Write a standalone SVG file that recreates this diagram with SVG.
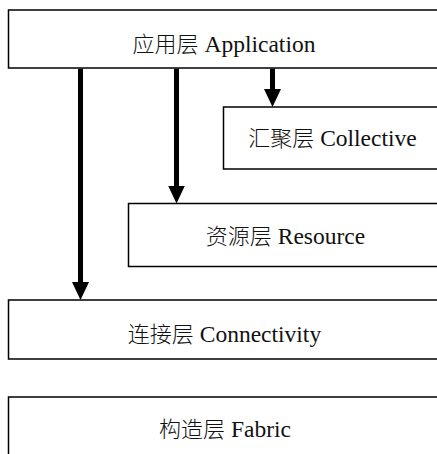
<svg xmlns="http://www.w3.org/2000/svg" width="437" height="454" viewBox="0 0 437 454">
<style>
.box{fill:#fff;stroke:#000;stroke-width:1.5}
.lbl{font-size:23.5px;fill:#111;text-anchor:middle}
.zh{font-size:22px;font-weight:300}
.conn{stroke:#000;stroke-width:5;fill:none}
</style>
<defs>
<marker id="ah" markerUnits="userSpaceOnUse" markerWidth="18" markerHeight="17" refX="2" refY="8.5" orient="auto">
<path d="M0,0 L18,8.5 L0,17 Z" fill="#000"/>
</marker>
</defs>
<rect width="437" height="454" fill="#fff"/>
<g id="application"><rect class="box" x="8.5" y="10" width="432" height="58"/><text class="lbl" font-family="Liberation Serif, DejaVu Serif, serif" x="224" y="51.5"><tspan class="zh" font-family="Noto Sans CJK SC, sans-serif">应用层</tspan> Application</text></g>
<g id="collective"><rect class="box" x="223.5" y="107" width="220" height="62"/><text class="lbl" font-family="Liberation Serif, DejaVu Serif, serif" x="332.5" y="145.5"><tspan class="zh" font-family="Noto Sans CJK SC, sans-serif">汇聚层</tspan> Collective</text></g>
<g id="resource"><rect class="box" x="128.5" y="203.5" width="315" height="63"/><text class="lbl" font-family="Liberation Serif, DejaVu Serif, serif" x="285.5" y="244"><tspan class="zh" font-family="Noto Sans CJK SC, sans-serif">资源层</tspan> Resource</text></g>
<g id="connectivity"><rect class="box" x="8.5" y="300" width="432" height="59"/><text class="lbl" font-family="Liberation Serif, DejaVu Serif, serif" x="224.5" y="341.5"><tspan class="zh" font-family="Noto Sans CJK SC, sans-serif">连接层</tspan> Connectivity</text></g>
<g id="fabric"><rect class="box" x="8.5" y="397" width="432" height="70"/><text class="lbl" font-family="Liberation Serif, DejaVu Serif, serif" x="225" y="436.5"><tspan class="zh" font-family="Noto Sans CJK SC, sans-serif">构造层</tspan> Fabric</text></g>
<g id="connectors">
<line class="conn" x1="272.5" y1="68.7" x2="272.5" y2="91" marker-end="url(#ah)"/>
<line class="conn" x1="176.5" y1="68.7" x2="176.5" y2="187.5" marker-end="url(#ah)"/>
<line class="conn" x1="80.5" y1="68.7" x2="80.5" y2="284" marker-end="url(#ah)"/>
</g>
</svg>
